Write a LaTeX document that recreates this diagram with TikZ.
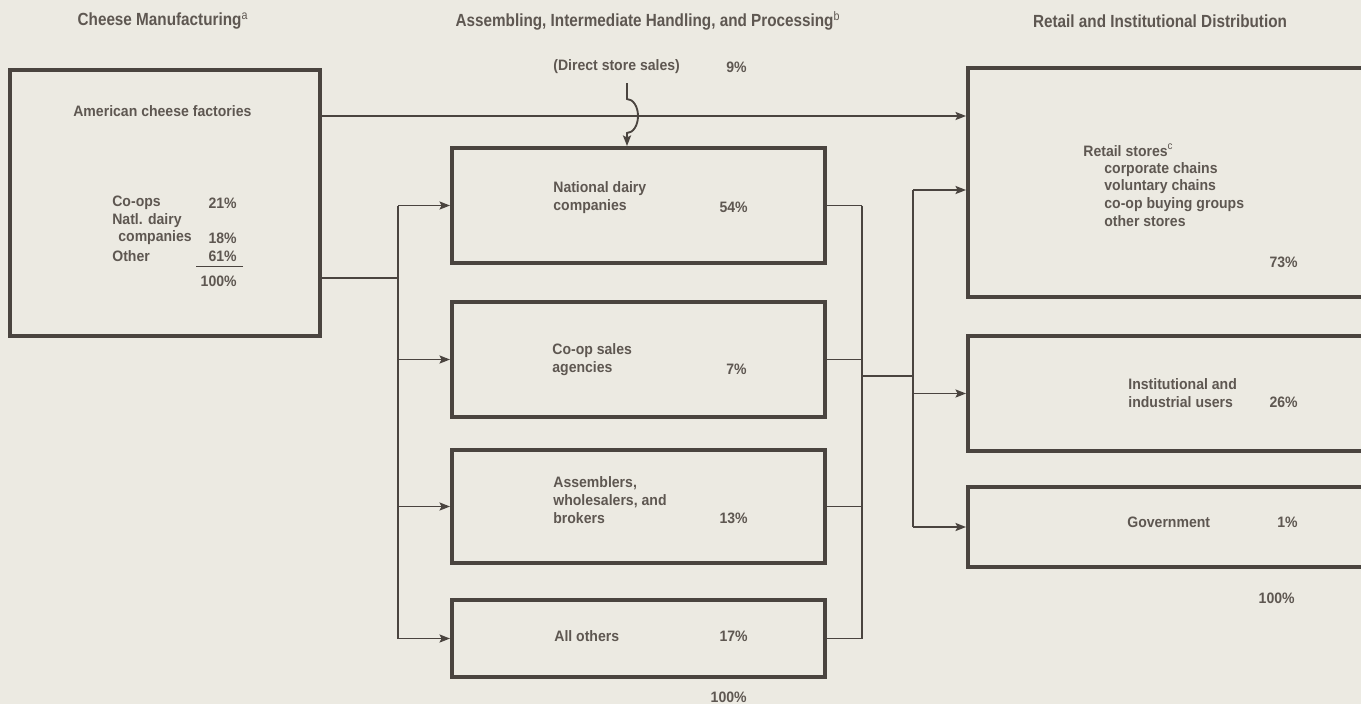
\documentclass[tikz,border=0pt]{standalone}
\usepackage{fontspec}
\setmainfont{Liberation Sans}
\newfontfamily\headfont{Liberation Sans}[FakeStretch=0.87]
\newfontfamily\boxfont{Liberation Sans}[FakeStretch=0.93]
\usepackage{tikz}
\usetikzlibrary{arrows.meta, calc}
\definecolor{paper}{HTML}{ECEAE2}
\definecolor{ink}{HTML}{4A443F}
\definecolor{txt}{HTML}{5E5751}

\begin{document}
\begin{tikzpicture}[x=0.02cm, y=-0.02cm,
      box/.style={draw=ink, line width=2.3pt, rectangle, inner sep=0pt},
      lbl/.style={text=txt, font=\boxfont\bfseries\fontsize{8.6}{10.2}\selectfont, inner sep=0pt, align=left},
      head/.style={text=txt, font=\headfont\bfseries\fontsize{10}{11}\selectfont, inner sep=0pt},
      wire/.style={draw=ink, line width=1.05pt},
      flow/.style={wire, -{Stealth[length=6pt, width=4.6pt, inset=1.2pt]}}]
      \fill[paper] (0,0) rectangle (1361,704);
      \clip (0,0) rectangle (1361,704);

      % column heads
      \node[head] (h1) at (163,21) {Cheese Manufacturing\textsuperscript{\mdseries a}};
      \node[head] (h2) at (648,21) {Assembling, Intermediate Handling, and Processing\textsuperscript{\mdseries b}};
      \node[head] (h3) at (1160,21) {Retail and Institutional Distribution};

      % boxes
      \node[box, minimum width=6.2cm, minimum height=5.32cm] (fact) at (165,203) {};
      \node[box, minimum width=7.46cm, minimum height=2.3cm] (nat) at (638.5,205.5) {};
      \node[box, minimum width=7.46cm, minimum height=2.3cm] (coop) at (638.5,359.5) {};
      \node[box, minimum width=7.46cm, minimum height=2.26cm] (asm) at (638.5,506.5) {};
      \node[box, minimum width=7.46cm, minimum height=1.54cm] (all) at (638.5,638.5) {};
      \node[box, minimum width=8.14cm, minimum height=4.58cm] (retail) at (1171.5,182.5) {};
      \node[box, minimum width=8.14cm, minimum height=2.3cm] (inst) at (1171.5,393.5) {};
      \node[box, minimum width=8.14cm, minimum height=1.6cm] (gov) at (1171.5,527) {};

      % factory box
      \node[lbl, anchor=west] (factl) at (73,111) {American cheese factories};
      \foreach \n/\x/\y/\t in {a/112/203/Co-ops, b/112/221/Natl. dairy, c/118/238/companies, d/112/256/Other}
        \node[lbl, anchor=west] (ct\n) at (\x,\y) {\t};
      \foreach \n/\y/\t in {a/203/21\%, c/238/18\%, d/256/61\%, e/281/100\%}
        \node[lbl, anchor=east] (cp\n) at (237,\y) {\t};
      \draw[wire, line width=0.6pt] (cpd.south east) ++(6,5) -- ++(-47,0);

      % middle column
      \node[lbl, anchor=west] (dss) at (553,67) {(Direct store sales)};
      \node[lbl, anchor=east] (dssp) at (747,67) {9\%};
      \node[lbl, anchor=west] (natl) at (553,197.5) {National dairy\\companies};
      \node[lbl, anchor=east] (natp) at (748,207) {54\%};
      \node[lbl, anchor=west] (coopl) at (552,360) {Co-op sales\\agencies};
      \node[lbl, anchor=east] (coopp) at (747,369) {7\%};
      \node[lbl, anchor=west] (asml) at (553,500) {Assemblers,\\wholesalers, and\\brokers};
      \node[lbl, anchor=east] (asmp) at (748,518) {13\%};
      \node[lbl, anchor=west] (alll) at (554,636) {All others};
      \node[lbl, anchor=east] (allp) at (748,636) {17\%};
      \node[lbl, anchor=east] (midt) at (747,697) {100\%};

      % right column
      \node[lbl, anchor=west] (rett) at (1083,150) {Retail stores\textsuperscript{\mdseries c}};
      \node[lbl, anchor=west] (retl) at (1104,194.5) {corporate chains\\voluntary chains\\co-op buying groups\\other stores};
      \node[lbl, anchor=east] (retp) at (1298,262) {73\%};
      \node[lbl, anchor=west] (instl) at (1128,393) {Institutional and\\industrial users};
      \node[lbl, anchor=east] (instp) at (1298,402) {26\%};
      \node[lbl, anchor=west] (govl) at (1127,522) {Government};
      \node[lbl, anchor=east] (govp) at (1298,522) {1\%};
      \node[lbl, anchor=east] (rtot) at (1295,598) {100\%};

      % connectors
      \coordinate (ftop) at (640,116);
      \draw[flow] (fact.east |- ftop) -- (retail.west |- ftop);
      \coordinate (hop) at (627,83);
      \draw[flow] (hop) -- ++(0,16) arc[start angle=90, end angle=-90, x radius=0.22cm, y radius=0.34cm] -- (hop |- nat.north);

      \coordinate (splitL) at (398,278);
      \draw[wire] (fact.east |- splitL) -- (splitL);
      \draw[wire] (nat.west -| splitL) -- (all.west -| splitL);
      \foreach \b in {nat,coop,asm,all}
        \draw[flow] (\b.west -| splitL) -- (\b.west);

      \coordinate (busR) at (862,376);
      \foreach \b in {nat,coop,asm,all}
        \draw[wire] (\b.east) -- (\b.east -| busR);
      \draw[wire] (nat.east -| busR) -- (all.east -| busR);
      \coordinate (busD) at (913,376);
      \draw[wire] (busR) -- (busD);
      \coordinate (rin) at (913,190);
      \draw[wire] (rin) -- (gov.west -| rin);
      \draw[flow] (rin) -- (retail.west |- rin);
      \foreach \b in {inst,gov}
        \draw[flow] (\b.west -| rin) -- (\b.west);
    \end{tikzpicture}
\end{document}
